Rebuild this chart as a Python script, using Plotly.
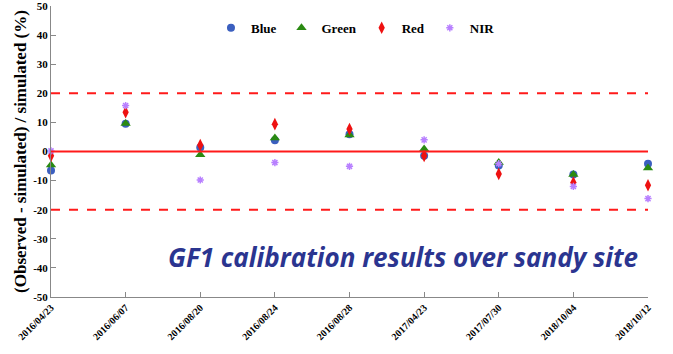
import plotly.graph_objects as go

dates = ["2016/04/23", "2016/06/07", "2016/08/20", "2016/08/24", "2016/08/28",
         "2017/04/23", "2017/07/30", "2018/10/04", "2018/10/12"]
blue = [-6.5, 9.5, 1.4, 3.9, 5.9, -1.5, -4.8, -7.9, -4.2]
green = [-4.6, 9.6, -1.1, 4.6, 5.7, 0.9, -3.8, -7.9, -5.7]
red = [-1.5, 13.5, 2.2, 9.4, 7.7, -1.5, -7.7, -10.7, -11.6]
nir = [0.2, 15.8, -9.8, -3.8, -5.1, 4.0, -4.2, -12.0, -16.2]
y_ticks = [-50, -40, -30, -20, -10, 0, 10, 20, 30, 40, 50]
limit_lines = [-20, 20]

serif = "Liberation Serif"
fig = go.Figure()

series = [
    ("Blue", blue, dict(symbol="circle", size=8, color="#3b5fbf")),
    ("Green", green, dict(symbol="triangle-up", size=9, color="#2a8a12")),
    ("Red", red, dict(symbol="diamond-tall", size=9, color="#ee1111")),
    ("NIR", nir, dict(symbol="asterisk-open", size=6, color="#b880ff",
                      line=dict(color="#b880ff", width=1.5))),
]
for name, vals, mk in series:
    fig.add_trace(go.Scatter(x=list(range(len(dates))), y=vals, mode="markers",
                             name="<b>%s</b>" % name, marker=mk, cliponaxis=False))

fig.add_shape(type="line", xref="x", yref="y", x0=0, x1=len(dates) - 1, y0=0, y1=0,
              line=dict(color="#ff1a1a", width=2))
for v in limit_lines:
    fig.add_shape(type="line", xref="x", yref="y", x0=0, x1=len(dates) - 1, y0=v, y1=v,
                  line=dict(color="#ff1a1a", width=2, dash="dash"))

fig.add_annotation(text="<b><i>GF1 calibration results over sandy site</i></b>",
                   xref="paper", yref="paper", x=0.987, y=0.137, xanchor="right", yanchor="middle",
                   showarrow=False, font=dict(family="Open Sans", size=26, color="#2b3590"))

fig.update_layout(
    width=673, height=354,
    margin=dict(l=51, r=25, t=6, b=57, autoexpand=False),
    paper_bgcolor="white", plot_bgcolor="white",
    showlegend=True,
    legend=dict(orientation="h", x=0.51, y=0.925, xanchor="center", yanchor="middle",
                font=dict(family=serif, size=13, color="black"),
                bgcolor="rgba(0,0,0,0)", itemwidth=30, tracegroupgap=0),
    font=dict(family=serif, color="black"),
)
fig.update_xaxes(range=[0, len(dates) - 1], tickmode="array",
                 tickvals=list(range(len(dates))), ticktext=["<b>%s</b>" % d for d in dates],
                 tickangle=-45, tickfont=dict(family=serif, size=10, color="black"),
                 showgrid=False, zeroline=False, showline=True, linecolor="#888888", linewidth=1,
                 ticks="inside", ticklen=5, tickcolor="#888888", ticklabeloverflow="allow",
                 automargin=False)
fig.update_yaxes(range=[-50.02, 50.02], tickmode="array", tickvals=y_ticks,
                 ticktext=["<b>%d</b>" % t for t in y_ticks],
                 tickfont=dict(family=serif, size=11, color="black"),
                 showgrid=False, zeroline=False, showline=True, linecolor="#888888", linewidth=1,
                 ticks="inside", ticklen=5, tickcolor="#888888", ticklabeloverflow="allow",
                 automargin=False,
                 title=dict(text="<b>(Observed - simulated) / simulated (%)</b>",
                            font=dict(family=serif, size=17, color="black"), standoff=2))

fig.write_html("out.html")
